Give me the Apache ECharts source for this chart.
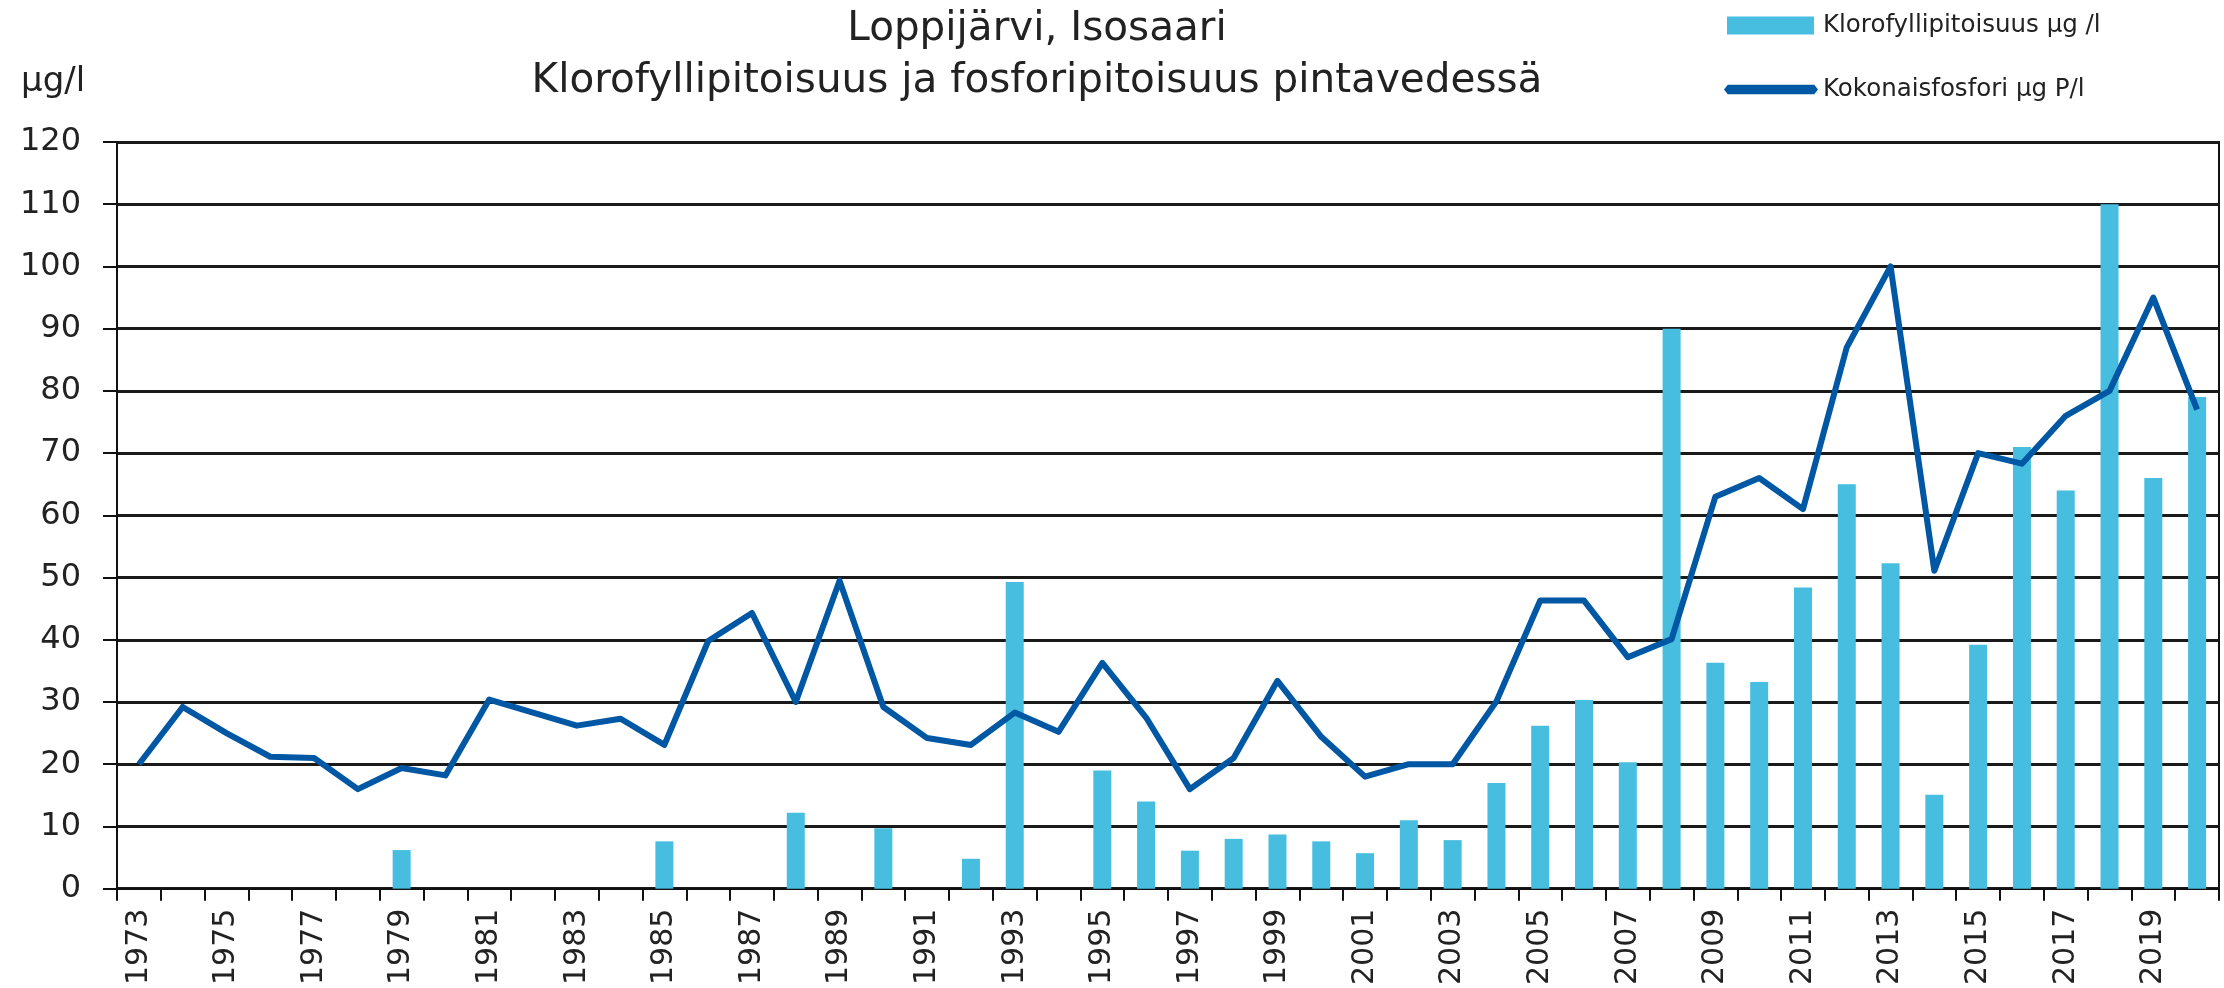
<!DOCTYPE html>
<html>
<head>
<meta charset="utf-8">
<script src="https://cdn.jsdelivr.net/npm/echarts@6/dist/echarts.min.js"></script>
<style>html,body{margin:0;padding:0;background:#fff}#c{width:2224px;height:988px}</style>
</head>
<body>
<div id="c"></div>
<script>
const years = [1973,1974,1975,1976,1977,1978,1979,1980,1981,1982,1983,1984,1985,1986,1987,1988,1989,1990,1991,1992,1993,1994,1995,1996,1997,1998,1999,2000,2001,2002,2003,2004,2005,2006,2007,2008,2009,2010,2011,2012,2013,2014,2015,2016,2017,2018,2019,2020];
const chlorophyll = [null,null,null,null,null,null,6.2,null,null,null,null,null,7.6,null,null,12.2,null,9.7,null,4.8,49.3,null,19,14,6.1,8,8.7,7.6,5.7,11,7.8,17,26.2,30.3,20.3,90,36.3,33.2,48.4,65,52.3,15.1,39.2,71,64,110,66,79];
const phosphorus = [20,29.2,25,21.2,21,16,19.4,18.2,30.4,28.3,26.2,27.3,23.1,39.8,44.3,30,49.5,29.2,24.2,23.1,28.3,25.2,36.3,27.5,16,21,33.4,24.4,18,20,20,30.1,46.3,46.3,37.2,40.1,63,66,61,87,100,51.1,70,68.3,76,80,95,77];
const yTicks = {min:0, max:120, step:10};
const titleLines = ['Loppijärvi, Isosaari','Klorofyllipitoisuus ja fosforipitoisuus pintavedessä'];
const seriesNames = ['Klorofyllipitoisuus µg /l','Kokonaisfosfori µg P/l'];
const unitLabel = 'µg/l';

const FONT = 'DejaVu Sans';
const TXT = '#222';
const chart = echarts.init(document.getElementById('c'), null, {renderer:'canvas'});
chart.setOption({
  animation:false,
  backgroundColor:'#fff',
  textStyle:{fontFamily:FONT},
  title:[
    {text:titleLines[0], left:1032, top:4, textAlign:'center', textStyle:{fontFamily:FONT,fontSize:40.5,fontWeight:'normal',color:TXT}},
    {text:titleLines[1], left:1032, top:56, textAlign:'center', textStyle:{fontFamily:FONT,fontSize:40.5,fontWeight:'normal',color:TXT}}
  ],
  graphic:[
    {type:'text', left:21, top:65, style:{text:unitLabel, fontFamily:FONT, fontSize:34, fill:TXT}}
  ],
  legend:[
    {data:[{name:seriesNames[0], icon:'rect'}], left:1722, top:8, itemWidth:87, itemHeight:18, selectedMode:false,
     textStyle:{fontFamily:FONT,fontSize:24.5,color:TXT,padding:[0,0,0,4]}},
    {data:[{name:seriesNames[1], icon:'path://M0,5 L4,0 L96,0 L100,5 L96,10 L4,10 Z'}], left:1719, top:72, itemWidth:94, itemHeight:12, selectedMode:false,
     itemStyle:{color:'#0057A3', borderWidth:0},
     textStyle:{fontFamily:FONT,fontSize:24.5,color:TXT}}
  ],
  grid:{left:117, top:142, right:5, bottom:99, show:true, borderColor:'#111', borderWidth:2, backgroundColor:'transparent', containLabel:false},
  xAxis:{
    type:'category', data:years, boundaryGap:true,
    axisLine:{show:true, lineStyle:{color:'#111', width:2}},
    axisTick:{show:true, interval:0, alignWithLabel:false, length:12, lineStyle:{color:'#111', width:2}},
    axisLabel:{interval:1, rotate:90, margin:20, fontFamily:FONT, fontSize:30, color:TXT},
    splitLine:{show:false}
  },
  yAxis:{
    type:'value', min:yTicks.min, max:yTicks.max, interval:yTicks.step,
    axisLine:{show:true, lineStyle:{color:'#111', width:2}},
    axisTick:{show:true, length:14, lineStyle:{color:'#111', width:2}},
    axisLabel:{margin:36, fontFamily:FONT, fontSize:32, color:TXT},
    splitLine:{show:true, lineStyle:{color:'#1a1a1a', width:3}}
  },
  series:[
    {name:seriesNames[0], type:'bar', data:chlorophyll, barWidth:18, itemStyle:{color:'#47BEDF'}, z:2},
    {name:seriesNames[1], type:'line', data:phosphorus, symbol:'none', showSymbol:false,
     lineStyle:{color:'#0057A3', width:6, join:'round'}, itemStyle:{color:'#0057A3'}, z:3}
  ]
});
</script>
</body>
</html>
